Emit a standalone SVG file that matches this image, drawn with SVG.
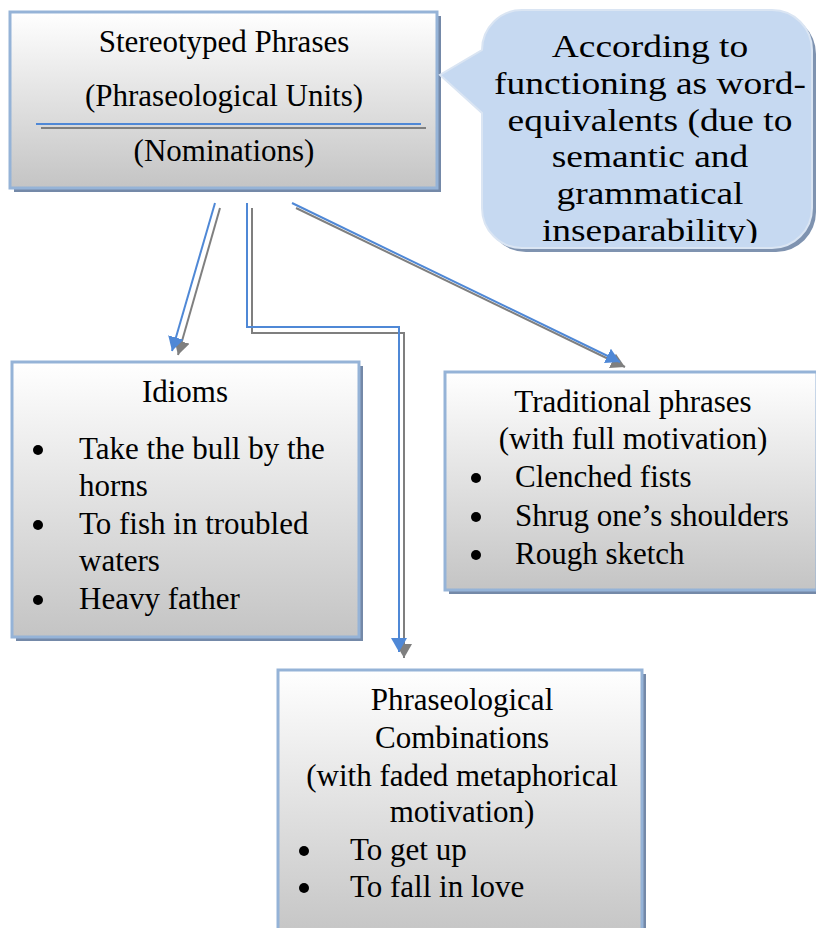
<svg xmlns="http://www.w3.org/2000/svg" width="816" height="928" viewBox="0 0 816 928">
<defs>
<linearGradient id="gbox" x1="0" y1="0" x2="0" y2="1">
<stop offset="0" stop-color="#ffffff"/>
<stop offset="1" stop-color="#c4c4c4"/>
</linearGradient>
<marker id="ab" markerUnits="userSpaceOnUse" markerWidth="16" markerHeight="16" refX="14" refY="8" orient="auto">
<path d="M0,0 L14,8 L0,16 z" fill="#4f88d6"/>
</marker>
<marker id="ag" markerUnits="userSpaceOnUse" markerWidth="16" markerHeight="16" refX="14" refY="8" orient="auto">
<path d="M0,0 L14,8 L0,16 z" fill="#7f7f7f"/>
</marker>
<clipPath id="cc"><rect x="470" y="0" width="346" height="243"/></clipPath>
</defs>
<style>
.shadow{fill:#7489a8}
.box{fill:url(#gbox);stroke:#95b3d7;stroke-width:3}
.t{font-family:"Liberation Serif","Times New Roman",serif;font-size:31px;fill:#000}
.c{text-anchor:middle}
.lb{fill:none;stroke:#4f88d6;stroke-width:2}
.lg{fill:none;stroke:#7f7f7f;stroke-width:2}
</style>
<rect width="816" height="928" fill="#ffffff"/>

<g id="connectors">
<line class="lg" x1="220" y1="208" x2="178" y2="355" marker-end="url(#ag)"/>
<polyline class="lg" points="252,208 252,333 404,333 404,658" marker-end="url(#ag)"/>
<line class="lg" x1="296" y1="208" x2="625" y2="367" marker-end="url(#ag)"/>
<line class="lb" x1="215" y1="203" x2="172" y2="351" marker-end="url(#ab)"/>
<polyline class="lb" points="247,203 247,327 399,327 399,652" marker-end="url(#ab)"/>
<line class="lb" x1="292" y1="203" x2="620" y2="362" marker-end="url(#ab)"/>
</g>

<g id="node-stereotyped">
<rect class="shadow" x="14" y="16" width="427" height="176"/>
<rect class="box" x="10" y="12" width="427" height="176"/>
<line x1="41" y1="128" x2="426" y2="128" stroke="#7f7f7f" stroke-width="2"/>
<line x1="36" y1="124" x2="421" y2="124" stroke="#4f88d6" stroke-width="2"/>
<text class="t c" x="224" y="52">Stereotyped Phrases</text>
<text class="t c" x="224" y="106">(Phraseological Units)</text>
<text class="t c" x="224" y="161">(Nominations)</text>
</g>

<g id="node-callout">
<path d="M526,14 H776 A40,40 0 0 1 816,54 V212 A40,40 0 0 1 776,252 H526 A40,40 0 0 1 486,212 V117 L444,79 L486,54 A40,40 0 0 1 526,14 Z" fill="#7f93b0"/>
<path d="M522,10 H772 A40,40 0 0 1 812,50 V208 A40,40 0 0 1 772,248 H522 A40,40 0 0 1 482,208 V113 L440,75 L482,50 A40,40 0 0 1 522,10 Z" fill="#c6d9f1" stroke="#dae5f3" stroke-width="2"/>
<g clip-path="url(#cc)">
<g transform="translate(650,0) scale(1.17,1)">
<text class="t c" x="0" y="57" style="font-size:32px">According to</text>
<text class="t c" x="0" y="94" style="font-size:32px">functioning as word-</text>
<text class="t c" x="0" y="131" style="font-size:32px">equivalents (due to</text>
<text class="t c" x="0" y="167" style="font-size:32px">semantic and</text>
<text class="t c" x="0" y="204" style="font-size:32px">grammatical</text>
<text class="t c" x="0" y="241" style="font-size:32px">inseparability)</text>
</g>
</g>
</g>

<g id="node-idioms">
<rect class="shadow" x="16" y="366" width="347" height="275"/>
<rect class="box" x="12" y="362" width="347" height="275"/>
<text class="t c" x="185" y="402">Idioms</text>
<circle cx="38" cy="450" r="5"/>
<text class="t" x="79" y="459">Take the bull by the</text>
<text class="t" x="79" y="496">horns</text>
<circle cx="38" cy="525" r="5"/>
<text class="t" x="79" y="534">To fish in troubled</text>
<text class="t" x="79" y="571">waters</text>
<circle cx="38" cy="600" r="5"/>
<text class="t" x="79" y="609">Heavy father</text>
</g>

<g id="node-traditional">
<rect class="shadow" x="449" y="376" width="372" height="218"/>
<rect class="box" x="445" y="372" width="372" height="218"/>
<text class="t c" x="633" y="412">Traditional phrases</text>
<text class="t c" x="633" y="449">(with full motivation)</text>
<circle cx="476" cy="478" r="5"/>
<text class="t" x="515" y="487">Clenched fists</text>
<circle cx="476" cy="517" r="5"/>
<text class="t" x="515" y="526">Shrug one’s shoulders</text>
<circle cx="476" cy="555" r="5"/>
<text class="t" x="515" y="564">Rough sketch</text>
</g>

<g id="node-combinations">
<rect class="shadow" x="282" y="674" width="364" height="270"/>
<rect class="box" x="278" y="670" width="364" height="270"/>
<text class="t c" x="462" y="710">Phraseological</text>
<text class="t c" x="462" y="748">Combinations</text>
<text class="t c" x="462" y="786">(with faded metaphorical</text>
<text class="t c" x="462" y="822">motivation)</text>
<circle cx="304" cy="851" r="5"/>
<text class="t" x="350" y="860">To get up</text>
<circle cx="304" cy="888" r="5"/>
<text class="t" x="350" y="897">To fall in love</text>
</g>
</svg>
